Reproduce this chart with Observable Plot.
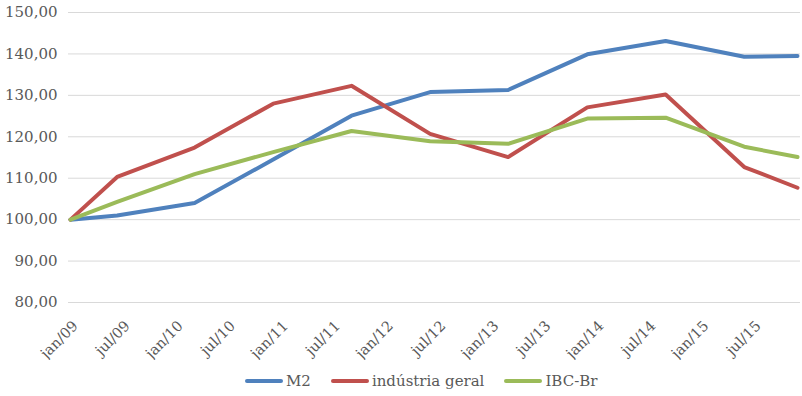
<!DOCTYPE html>
<html>
<head>
<meta charset="utf-8">
<script src="https://cdn.jsdelivr.net/npm/d3@7"></script>
<script src="https://cdn.jsdelivr.net/npm/@observablehq/plot@0.6"></script>
<style>
  html, body { margin: 0; padding: 0; background: #fff; }
  #wrap { width: 802px; height: 396px; position: relative; overflow: hidden; }
  #legend { position: absolute; left: 245px; top: 372px; display: flex; align-items: center;
            font-family: "DejaVu Serif", serif; font-size: 15px; color: #595959; white-space: nowrap; }
  .item { display: flex; align-items: center; margin-right: 20px; }
  .sw { width: 38px; height: 4px; margin-right: 3px; border-radius: 2px; }
</style>
</head>
<body>
<div id="wrap"><div id="chart"></div><div id="legend"></div></div>
<script>
// Data
const dates = ["2009-01-01", "2009-06-12", "2010-03-08", "2010-12-06", "2011-09-04", "2012-06-03",
               "2013-03-01", "2013-12-01", "2014-08-30", "2015-05-30", "2015-12-01"];
const m2 =        [100.0, 101.0, 104.0, 114.5, 125.1, 130.8, 131.3, 139.9, 143.1, 139.3, 139.5];
const industria = [100.0, 110.3, 117.4, 128.0, 132.3, 120.7, 115.1, 127.1, 130.2, 112.7, 107.7];
const ibc =       [100.0, 104.3, 111.0, 116.3, 121.4, 118.9, 118.3, 124.4, 124.6, 117.6, 115.1];
const seriesNames = ["M2", "indústria geral", "IBC-Br"];
const seriesColors = ["#4f81bd", "#c0504d", "#9bbb59"];
const yTicks = [80, 90, 100, 110, 120, 130, 140, 150];
const xTickLabels = ["jan/09","jul/09","jan/10","jul/10","jan/11","jul/11","jan/12","jul/12",
                     "jan/13","jul/13","jan/14","jul/14","jan/15","jul/15"];

const monthIdx = {jan: 0, jul: 6};
const xTicks = xTickLabels.map(s => {
  const [m, y] = s.split("/");
  return new Date(Date.UTC(2000 + +y, monthIdx[m], 1));
});
const labelOf = new Map(xTicks.map((d, i) => [+d, xTickLabels[i]]));

const valuesBySeries = [m2, industria, ibc];
const data = [];
seriesNames.forEach((name, si) => {
  valuesBySeries[si].forEach((v, i) => data.push({series: name, date: new Date(dates[i] + "T00:00:00Z"), value: v}));
});

const chart = Plot.plot({
  width: 802,
  height: 360,
  marginLeft: 68,
  marginRight: 2,
  marginTop: 12,
  marginBottom: 58,
  style: {fontFamily: "DejaVu Serif, serif", fontSize: "14px", color: "#595959", background: "white"},
  x: {type: "utc", domain: [new Date(dates[0] + "T00:00:00Z"), new Date(dates[dates.length - 1] + "T00:00:00Z")], insetLeft: 2, insetRight: 3},
  y: {domain: [80, 150]},
  color: {domain: seriesNames, range: seriesColors},
  marks: [
    Plot.gridY(yTicks, {stroke: "#d9d9d9", strokeOpacity: 1, strokeWidth: 1}),
    Plot.axisY(yTicks, {tickSize: 0, tickPadding: 11, fontSize: 15, fill: "#595959",
      tickFormat: d => d.toFixed(2).replace(".", ","), label: null}),
    Plot.axisX(xTicks, {tickSize: 0, tickRotate: -45, textAnchor: "end", tickPadding: 21, dx: 5,
      fontSize: 14.5, fill: "#595959", tickFormat: d => labelOf.get(+d), label: null}),
    Plot.line(data, {x: "date", y: "value", z: "series", stroke: "series", strokeWidth: 4,
      strokeLinejoin: "round", strokeLinecap: "round"})
  ]
});
document.getElementById("chart").appendChild(chart);

const legend = document.getElementById("legend");
seriesNames.forEach((name, i) => {
  const item = document.createElement("div");
  item.className = "item";
  const sw = document.createElement("div");
  sw.className = "sw";
  sw.style.background = seriesColors[i];
  const t = document.createElement("span");
  t.textContent = name;
  item.appendChild(sw);
  item.appendChild(t);
  legend.appendChild(item);
});
</script>
</body>
</html>
